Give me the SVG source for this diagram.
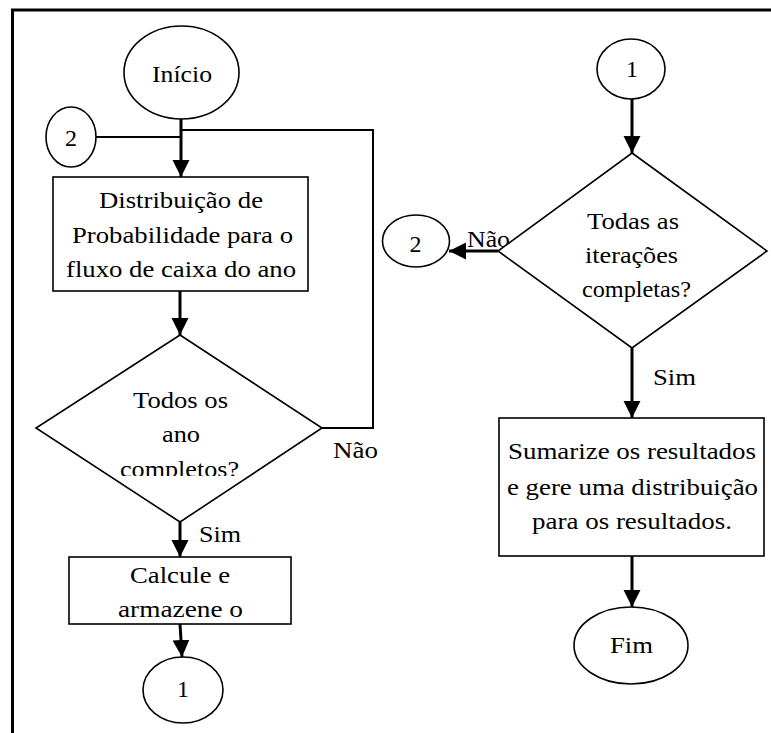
<svg xmlns="http://www.w3.org/2000/svg" width="771" height="733" viewBox="0 0 771 733">
<style>
.s{fill:#fff;stroke:#000;stroke-width:1.6}
.t{font-family:"Liberation Serif","DejaVu Serif",serif;font-size:24px;fill:#000;text-anchor:middle}
.thin{fill:none;stroke:#000;stroke-width:2}
.thick{fill:none;stroke:#000;stroke-width:3;marker-end:url(#ah)}
</style>
<defs>
<marker id="ah" markerUnits="userSpaceOnUse" markerWidth="18" markerHeight="18" refX="17" refY="8.5" orient="auto" viewBox="0 0 18 17">
<path d="M0,0 L17,8.5 L0,17 z" fill="#000"/>
</marker>
<clipPath id="clipD1"><rect x="0" y="0" width="771" height="476"/></clipPath>
</defs>
<rect width="771" height="733" fill="#fff"/>
<g id="border">
<path d="M11,10 H771 M12.5,8.5 V733" fill="none" stroke="#000" stroke-width="3"/>
</g>
<g id="connectors">
<polyline class="thin" points="322,428 373,428 373,130 181,130"/>
<line class="thin" x1="96" y1="137" x2="181" y2="137"/>
<line class="thick" x1="181" y1="119" x2="181" y2="177"/>
<line class="thick" x1="180" y1="291" x2="180" y2="335"/>
<line class="thick" x1="180" y1="522" x2="180" y2="557"/>
<line class="thick" x1="180" y1="624" x2="182" y2="657"/>
<line class="thick" x1="632" y1="99" x2="632" y2="153"/>
<line class="thick" x1="498" y1="251" x2="449" y2="251"/>
<line class="thick" x1="632" y1="348" x2="632" y2="418"/>
<line class="thick" x1="632" y1="556" x2="632" y2="607"/>
<text class="t" x="355.5" y="458" textLength="45" lengthAdjust="spacingAndGlyphs">Não</text>
<text class="t" x="220" y="542" textLength="42" lengthAdjust="spacingAndGlyphs">Sim</text>
<text class="t" x="488.5" y="247" textLength="43" lengthAdjust="spacingAndGlyphs">Não</text>
<text class="t" x="674.5" y="385" textLength="43" lengthAdjust="spacingAndGlyphs">Sim</text>
</g>
<g id="inicio">
<ellipse class="s" cx="181.5" cy="72.5" rx="57.5" ry="46.5"/>
<text class="t" x="182" y="82" textLength="60" lengthAdjust="spacingAndGlyphs">Início</text>
</g>
<g id="con2a">
<ellipse class="s" cx="71" cy="137" rx="25" ry="30"/>
<text class="t" x="71" y="146">2</text>
</g>
<g id="dist">
<rect class="s" x="53" y="177" width="255" height="114"/>
<text class="t" x="181" y="208" textLength="164" lengthAdjust="spacingAndGlyphs">Distribuição de</text>
<text class="t" x="182.5" y="243" textLength="221" lengthAdjust="spacingAndGlyphs">Probabilidade para o</text>
<text class="t" x="181" y="277" textLength="230" lengthAdjust="spacingAndGlyphs">fluxo de caixa do ano</text>
</g>
<g id="dec1">
<polygon class="s" points="180,335 322,428 180,522 36,428"/>
<text class="t" x="180.5" y="408" textLength="95" lengthAdjust="spacingAndGlyphs">Todos os</text>
<text class="t" x="181" y="442" textLength="38" lengthAdjust="spacingAndGlyphs">ano</text>
<text class="t" x="179.5" y="477" textLength="119" lengthAdjust="spacingAndGlyphs" clip-path="url(#clipD1)">completos?</text>
</g>
<g id="calc">
<rect class="s" x="69" y="557" width="222" height="67"/>
<text class="t" x="180" y="583" textLength="100" lengthAdjust="spacingAndGlyphs">Calcule e</text>
<text class="t" x="180.5" y="617" textLength="125" lengthAdjust="spacingAndGlyphs">armazene o</text>
</g>
<g id="con1a">
<ellipse class="s" cx="183" cy="690" rx="40" ry="33"/>
<text class="t" x="183" y="697">1</text>
</g>
<g id="con1b">
<ellipse class="s" cx="631" cy="69" rx="34" ry="30"/>
<text class="t" x="632" y="77">1</text>
</g>
<g id="dec2">
<polygon class="s" points="632,153 767,251 632,348 498,251"/>
<text class="t" x="633" y="229" textLength="92" lengthAdjust="spacingAndGlyphs">Todas as</text>
<text class="t" x="631.5" y="263" textLength="93" lengthAdjust="spacingAndGlyphs">iterações</text>
<text class="t" x="636.5" y="297" textLength="109" lengthAdjust="spacingAndGlyphs">completas?</text>
</g>
<g id="con2b">
<ellipse class="s" cx="416" cy="241" rx="33.5" ry="26"/>
<text class="t" x="415.5" y="252">2</text>
</g>
<g id="sum">
<rect class="s" x="499" y="418" width="265" height="138"/>
<text class="t" x="632" y="459" textLength="248" lengthAdjust="spacingAndGlyphs">Sumarize os resultados</text>
<text class="t" x="632.5" y="495" textLength="251" lengthAdjust="spacingAndGlyphs">e gere uma distribuição</text>
<text class="t" x="632" y="529" textLength="200" lengthAdjust="spacingAndGlyphs">para os resultados.</text>
</g>
<g id="fim">
<ellipse class="s" cx="631" cy="645.5" rx="57" ry="38.5"/>
<text class="t" x="631.5" y="653" textLength="43" lengthAdjust="spacingAndGlyphs">Fim</text>
</g>
</svg>
